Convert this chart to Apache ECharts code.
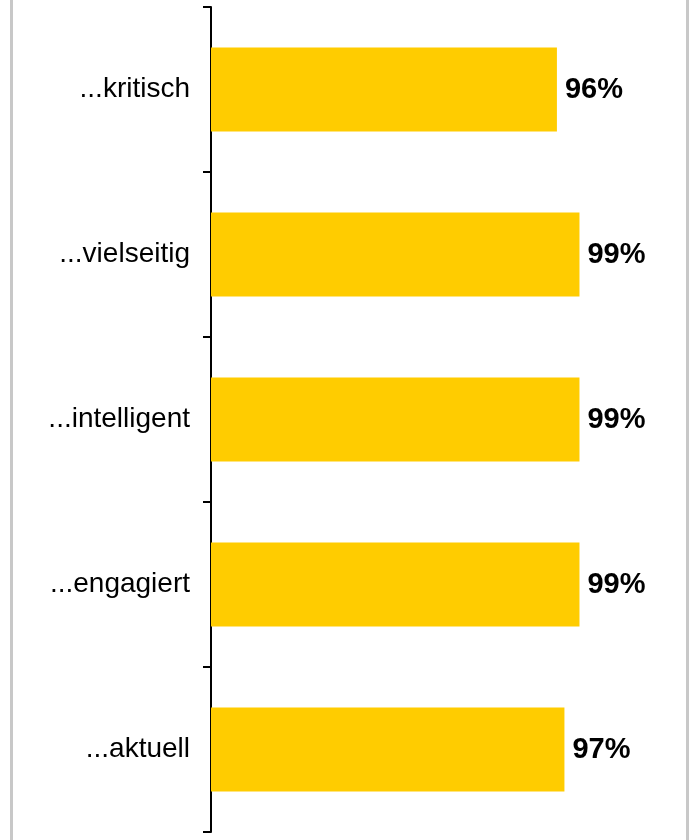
<!DOCTYPE html>
<html>
<head>
<meta charset="utf-8">
<script src="https://cdn.jsdelivr.net/npm/echarts@6/dist/echarts.min.js"></script>
<style>
  html, body { margin: 0; padding: 0; background: #fff; }
  #wrap { position: relative; width: 689px; height: 840px; }
  #chart { position: absolute; left: 0; top: 0; width: 689px; height: 840px; }
  #frame { position: absolute; left: 10px; top: 0; width: 673px; height: 840px;
           border-left: 3px solid #c8c8c8; border-right: 3px solid #c8c8c8; pointer-events: none; }
</style>
</head>
<body>
<div id="wrap">
  <div id="chart"></div>
  <div id="frame"></div>
</div>
<script>
// Kategorien von oben nach unten
const categories = ['...kritisch', '...vielseitig', '...intelligent', '...engagiert', '...aktuell'];
// Zustimmung in Prozent
const values = [96, 99, 99, 99, 97];

const chart = echarts.init(document.getElementById('chart'));
chart.setOption({
  animation: false,
  grid: { left: 211, top: 7, width: 376, height: 825 },
  xAxis: {
    type: 'value',
    min: 50,
    max: 100,
    show: false
  },
  yAxis: {
    type: 'category',
    data: categories,
    inverse: true,
    axisLine: { show: true, lineStyle: { color: '#000', width: 2 } },
    axisTick: { show: true, length: 8, lineStyle: { color: '#000', width: 2 } },
    axisLabel: {
      margin: 21,
      color: '#000',
      fontFamily: 'Liberation Sans, Arial, sans-serif',
      fontSize: 28,
      padding: [4, 0, 0, 0]
    }
  },
  series: [{
    type: 'bar',
    data: values,
    barWidth: 84,
    itemStyle: { color: '#ffcc00' },
    label: {
      show: true,
      position: 'right',
      distance: 8,
      formatter: '{c}%',
      color: '#000',
      fontWeight: 'bold',
      fontFamily: 'Liberation Sans, Arial, sans-serif',
      fontSize: 29,
      padding: [4, 0, 0, 0]
    }
  }]
});
</script>
</body>
</html>
